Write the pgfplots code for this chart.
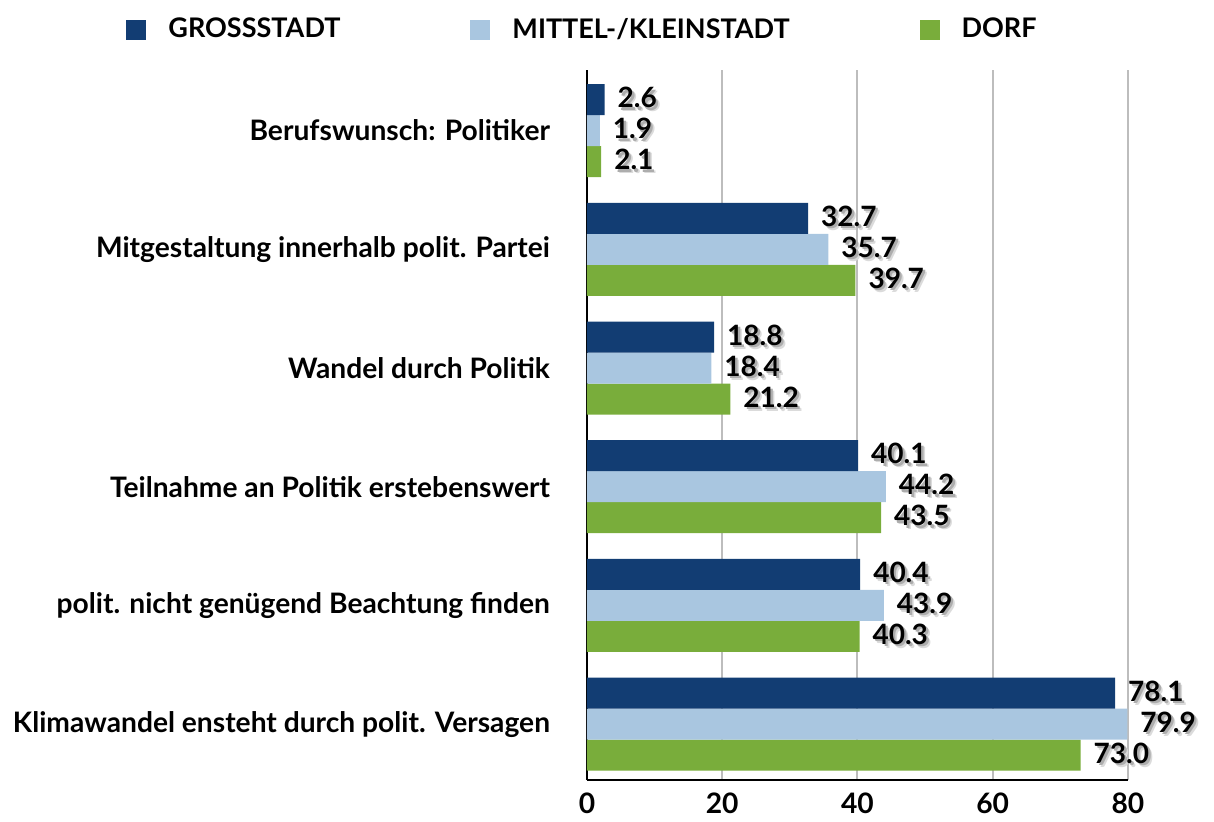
\documentclass[border=0pt]{standalone}
\usepackage{pgfplots}
\pgfplotsset{compat=1.18}
\usepackage{fontspec}
\setmainfont{Lato}

\definecolor{gross}{HTML}{123D73}
\definecolor{mittel}{HTML}{A9C6E0}
\definecolor{dorf}{HTML}{79AD3B}
\definecolor{gridgray}{HTML}{BDBDBD}

\newcommand{\shadowtext}[1]{%
  \makebox[0pt][l]{\kern2pt\raisebox{-2pt}{\textcolor{black!14}{#1}}}%
  \makebox[0pt][l]{\kern1.2pt\raisebox{-1.2pt}{\textcolor{black!32}{#1}}}#1}

\begin{document}
\begin{tikzpicture}
\begin{axis}[
    at={(0,0)}, anchor=south west,
    scale only axis,
    width=270.5pt, height=355pt,
    xbar=0pt, bar width=15.5pt,
    xmin=0, xmax=80,
    ymin=-0.47, ymax=5.51,
    axis lines=left,
    axis line style={-, line width=1.2pt, black},
    xtick={0,20,40,60,80},
    ytick={0,1,2,3,4,5},
    yticklabels={Klimawandel ensteht durch polit. Versagen,
                 polit. nicht genügend Beachtung finden,
                 Teilnahme an Politik erstebenswert,
                 Wandel durch Politik,
                 Mitgestaltung innerhalb polit. Partei,
                 Berufswunsch: Politiker},
    major tick length=0pt,
    xmajorgrids=true,
    grid style={gridgray, line width=1pt},
    /pgf/number format/assume math mode=true,
    ticklabel style={font=\fontsize{14.1}{16}\selectfont\bfseries},
    yticklabel style={xshift=-15pt},
    xticklabel style={yshift=-3pt},
    nodes near coords={\shadowtext{\pgfmathprintnumber[fixed,fixed zerofill,precision=1]{\pgfplotspointmeta}}},
    every node near coord/.append style={font=\fontsize{14}{16}\selectfont\bfseries, anchor=west, xshift=3pt, black},
    point meta=explicit,
    clip=false,
    reverse legend,
    legend columns=3,
    legend style={at={(-0.852,1.057)}, anchor=west, draw=none, fill=none, inner sep=0pt,
        font=\fontsize{13.5}{16}\selectfont\bfseries,
        /tikz/every even column/.append style={column sep=63pt}},
    legend image code/.code={\fill[#1, draw=none] (0pt,-5pt) rectangle (10pt,5pt);
        \path[draw=none, fill=none] (0pt,0pt) rectangle (19pt,0.1pt);},
]
\addplot[fill=dorf, draw=none] coordinates {
  (73.0,0) [73.0] (40.3,1) [40.3] (43.5,2) [43.5] (21.2,3) [21.2] (39.7,4) [39.7] (2.1,5) [2.1]
};
\addlegendentry{DORF}
\addplot[fill=mittel, draw=none] coordinates {
  (79.9,0) [79.9] (43.9,1) [43.9] (44.2,2) [44.2] (18.4,3) [18.4] (35.7,4) [35.7] (1.9,5) [1.9]
};
\addlegendentry{MITTEL-/KLEINSTADT}
\addplot[fill=gross, draw=none] coordinates {
  (78.1,0) [78.1] (40.4,1) [40.4] (40.1,2) [40.1] (18.8,3) [18.8] (32.7,4) [32.7] (2.6,5) [2.6]
};
\addlegendentry{GROSSSTADT}
\end{axis}
\pgfresetboundingbox
\path (-293.5pt,-20.5pt) rectangle (313.5pt,390pt);
\end{tikzpicture}
\end{document}
